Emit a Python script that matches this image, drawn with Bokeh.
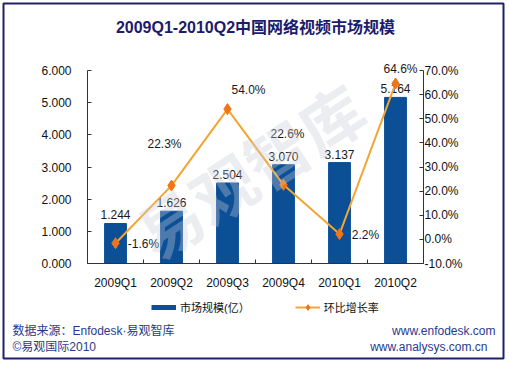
import math
from bokeh.plotting import figure
from bokeh.models import (Range1d, LinearAxis, FixedTicker, NumeralTickFormatter,
                          PrintfTickFormatter, Label, Legend, LegendItem, ColumnDataSource)
from bokeh.core.properties import value
from bokeh.embed import file_html
from bokeh.resources import INLINE

# ---- data ----
categories = ["2009Q1", "2009Q2", "2009Q3", "2009Q4", "2010Q1", "2010Q2"]
market_size = [1.244, 1.626, 2.504, 3.070, 3.137, 5.164]       # 市场规模(亿)
growth_pct = [-1.6, 22.3, 54.0, 22.6, 2.2, 64.6]                # 环比增长率 (%)
left_ticks = [0, 1, 2, 3, 4, 5, 6]
right_ticks = [-10, 0, 10, 20, 30, 40, 50, 60, 70]

title_text = "2009Q1-2010Q2中国网络视频市场规模"
bar_label = "市场规模(亿）"
line_label = "环比增长率"
source_text = "数据来源：Enfodesk·易观智库"
copyright_text = "©易观国际2010"
url1 = "www.enfodesk.com"
url2 = "www.analysys.com.cn"
watermark = "易观智库"

# ---- styles ----
FONT = "'Liberation Sans', 'Noto Sans CJK SC', sans-serif"
BAR = "#0b4f96"
LINE = "#f2a632"
MARK = "#f07418"
NAVY = "#1c1c6c"
FOOT = "#283a8c"
AX = "#333333"

# label offsets (screen px) for percentage labels
pct_dx = [28, -7, 21, 4, 26, 5]
pct_dy = [1, -42, -19, -51, 1, -15]

# ---- geometry (pixels) ----
W, H = 506, 361
B = 3                      # border inset
FX0, FX1, FY0, FY1 = B, W - B, B, H - B
CX0, CX1 = 87, 423         # chart area left/right
CY0, CY1 = 263, 70         # chart area bottom/top

n = len(categories)
kx = n / (CX1 - CX0)
x_start = 0 - (CX0 - FX0) * kx
x_end = n + (FX1 - CX1) * kx
lo, hi = left_ticks[0], left_ticks[-1]
ky = (hi - lo) / (CY0 - CY1)
y_start = lo - (FY1 - CY0) * ky
y_end = hi + (CY1 - FY0) * ky
rlo, rhi = right_ticks[0], right_ticks[-1]
kr = (rhi - rlo) / (CY0 - CY1)
r_start = rlo - (FY1 - CY0) * kr
r_end = rhi + (CY1 - FY0) * kr


def px_x(px):
    return x_start + (px - FX0) * kx


def px_y(py):
    return y_end - (py - FY0) * ky


xs = [i + 0.5 for i in range(n)]

p = figure(width=W, height=H, x_range=Range1d(x_start, x_end), y_range=Range1d(y_start, y_end),
           output_backend="svg", toolbar_location=None,
           x_axis_location=None, y_axis_location=None,
           min_border_left=B, min_border_right=B, min_border_top=B, min_border_bottom=B,
           background_fill_color="white", border_fill_color="white",
           outline_line_color="#20206a", outline_line_width=2)
p.xgrid.visible = False
p.ygrid.visible = False
p.extra_y_ranges = {"pct": Range1d(r_start, r_end)}

# bars
p.vbar(x=xs, top=market_size, width=0.39, fill_color=BAR, line_color=BAR)

# watermark (over the bars, translucent)
p.add_layout(Label(text=watermark, x=px_x(252), y=px_y(174), text_align="center",
                   text_baseline="middle", angle=math.radians(33),
                   text_font=FONT, text_font_size="64px", text_font_style="bold",
                   text_color="#c8ccd8", text_alpha=0.35, level="glyph"))

# bar value labels
p.text(x=xs, y=market_size, text=[f"{v:.3f}" for v in market_size],
       text_align="center", text_baseline="bottom", y_offset=-4,
       text_font=value(FONT), text_font_size="12px", text_color="#1a1a1a")

# growth line
line_r = p.line(xs, growth_pct, y_range_name="pct", line_color=LINE, line_width=2)
pts_r = p.scatter(xs, growth_pct, y_range_name="pct", marker="diamond", size=11,
                  fill_color=MARK, line_color=MARK)

pct_src = ColumnDataSource(dict(x=xs, y=growth_pct, t=[f"{v:.1f}%" for v in growth_pct],
                                dx=pct_dx, dy=pct_dy))
p.text(x="x", y="y", text="t", x_offset="dx", y_offset="dy", source=pct_src, y_range_name="pct",
       text_align="center", text_baseline="middle",
       text_font=value(FONT), text_font_size="12px", text_color="#1a1a1a")


# axes
def style_axis(a, standoff):
    a.axis_line_color = AX
    a.major_tick_line_color = AX
    a.major_tick_in = 4
    a.major_tick_out = 0
    a.minor_tick_line_color = None
    a.major_label_standoff = standoff
    a.major_label_text_font = FONT
    a.major_label_text_font_size = "12px"
    a.major_label_text_color = "#111111"


xa = LinearAxis(fixed_location=lo, bounds=(0, n),
                ticker=FixedTicker(ticks=xs, minor_ticks=list(range(n + 1))))
style_axis(xa, 12)
xa.major_label_overrides = {x: c for x, c in zip(xs, categories)}
xa.major_tick_line_color = None
xa.major_tick_in = 0
xa.minor_tick_in = 4
xa.minor_tick_out = 0
xa.minor_tick_line_color = AX
p.add_layout(xa, "below")

ya = LinearAxis(fixed_location=0, bounds=(lo, hi), ticker=FixedTicker(ticks=left_ticks),
                formatter=NumeralTickFormatter(format="0.000"))
style_axis(ya, 16)
p.add_layout(ya, "left")

ra = LinearAxis(y_range_name="pct", fixed_location=n, bounds=(rlo, rhi),
                ticker=FixedTicker(ticks=right_ticks),
                formatter=PrintfTickFormatter(format="%.1f%%"))
style_axis(ra, 1)
p.add_layout(ra, "right")

# legend (swatch renderer for the bar series: a thick line, as in the original)
bar_leg = p.line(x=[float("nan")], y=[float("nan")], line_color=BAR, line_width=5)
legend = Legend(items=[LegendItem(label=bar_label, renderers=[bar_leg]),
                       LegendItem(label=line_label, renderers=[line_r, pts_r])],
                location=(151 - FX0, FY1 - 301 - 14), orientation="horizontal",
                glyph_width=25, glyph_height=14, label_height=14, label_standoff=4,
                spacing=45, padding=0, margin=0, border_line_color=None,
                background_fill_alpha=0,
                label_text_font=FONT, label_text_font_size="11px", label_text_color="#111111")
p.add_layout(legend, "center")


# texts
def lab(text, x, y, size, color, align="left", bold=False):
    p.add_layout(Label(text=text, x=px_x(x), y=px_y(y),
                       text_align=align, text_baseline="middle",
                       text_font=FONT, text_font_size=size, text_color=color,
                       text_font_style="bold" if bold else "normal"))


lab(title_text, 255, 27, "16px", NAVY, align="center", bold=True)
lab(source_text, 12, 330, "12px", FOOT)
lab(copyright_text, 12, 346, "12px", FOOT)
lab(url1, 495, 330, "12px", FOOT, align="right")
lab(url2, 487, 346, "12px", FOOT, align="right")

open("out.html", "w").write(file_html(p, INLINE))
